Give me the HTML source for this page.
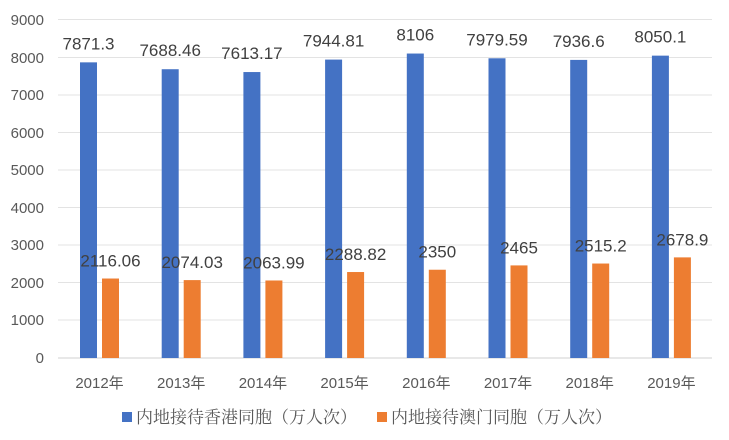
<!DOCTYPE html>
<html><head><meta charset="utf-8"><style>
body{margin:0;background:#fff}
svg{display:block}
text{font-family:"Liberation Sans","Noto Sans CJK SC",sans-serif}
</style></head><body>
<svg width="729" height="440" viewBox="0 0 729 440">
<rect width="729" height="440" fill="#fff"/>
<g stroke="#e3e3e3" stroke-width="1">
<line x1="58" x2="712" y1="19.5" y2="19.5"/>
<line x1="58" x2="712" y1="57.5" y2="57.5"/>
<line x1="58" x2="712" y1="95" y2="95"/>
<line x1="58" x2="712" y1="132.5" y2="132.5"/>
<line x1="58" x2="712" y1="170" y2="170"/>
<line x1="58" x2="712" y1="207.5" y2="207.5"/>
<line x1="58" x2="712" y1="245" y2="245"/>
<line x1="58" x2="712" y1="282.5" y2="282.5"/>
<line x1="58" x2="712" y1="320" y2="320"/>
</g>
<line x1="58" x2="712" y1="358" y2="358" stroke="#d0d0d0"/>
<g font-size="15" fill="#595959" text-anchor="end">
<text x="44" y="25">9000</text><text x="44" y="63">8000</text><text x="44" y="100">7000</text>
<text x="44" y="138">6000</text><text x="44" y="175">5000</text><text x="44" y="213">4000</text>
<text x="44" y="250">3000</text><text x="44" y="288">2000</text><text x="44" y="325">1000</text>
<text x="44" y="363">0</text>
</g>
<g fill="#4472c4">
<rect x="80" y="62.35" width="17" height="295.65"/>
<rect x="161.7" y="69.22" width="17" height="288.78"/>
<rect x="243.4" y="72.05" width="17" height="285.95"/>
<rect x="325.1" y="59.59" width="17" height="298.41"/>
<rect x="406.8" y="53.54" width="17" height="304.46"/>
<rect x="488.5" y="58.29" width="17" height="299.71"/>
<rect x="570.2" y="59.9" width="17" height="298.1"/>
<rect x="651.9" y="55.64" width="17" height="302.36"/>
</g>
<g fill="#ed7d31">
<rect x="102" y="278.52" width="17" height="79.48"/>
<rect x="183.7" y="280.1" width="17" height="77.9"/>
<rect x="265.4" y="280.48" width="17" height="77.52"/>
<rect x="347.1" y="272.03" width="17" height="85.97"/>
<rect x="428.8" y="269.73" width="17" height="88.27"/>
<rect x="510.5" y="265.41" width="17" height="92.59"/>
<rect x="592.2" y="263.53" width="17" height="94.47"/>
<rect x="673.9" y="257.38" width="17" height="100.62"/>
</g>
<g font-size="15" fill="#595959" text-anchor="middle">
<text x="99.5" y="388">2012年</text>
<text x="181.2" y="388">2013年</text>
<text x="262.9" y="388">2014年</text>
<text x="344.6" y="388">2015年</text>
<text x="426.3" y="388">2016年</text>
<text x="508" y="388">2017年</text>
<text x="589.7" y="388">2018年</text>
<text x="671.4" y="388">2019年</text>
</g>
<g font-size="17" fill="#404040" text-anchor="middle">
<text x="88.5" y="49.4">7871.3</text>
<text x="170.2" y="56.2">7688.46</text>
<text x="251.9" y="59.1">7613.17</text>
<text x="333.6" y="46.6">7944.81</text>
<text x="415.3" y="40.5">8106</text>
<text x="497" y="45.3">7979.59</text>
<text x="578.7" y="46.9">7936.6</text>
<text x="660.4" y="42.6">8050.1</text>
<text x="110.5" y="266.5">2116.06</text>
<text x="192.2" y="268.1">2074.03</text>
<text x="273.9" y="268.5">2063.99</text>
<text x="355.6" y="260">2288.82</text>
<text x="437.3" y="257.7">2350</text>
<text x="519" y="253.4">2465</text>
<text x="600.7" y="251.5">2515.2</text>
<text x="682.4" y="245.4">2678.9</text>
</g>
<rect x="122" y="412" width="10" height="10" fill="#4472c4"/>
<text x="136" y="423" font-size="17" fill="#595959" style="font-family:'Noto Serif CJK SC',serif">内地接待香港同胞（万人次）</text>
<rect x="377" y="412" width="10" height="10" fill="#ed7d31"/>
<text x="391" y="423" font-size="17" fill="#595959" style="font-family:'Noto Serif CJK SC',serif">内地接待澳门同胞（万人次）</text>
</svg>
</body></html>
